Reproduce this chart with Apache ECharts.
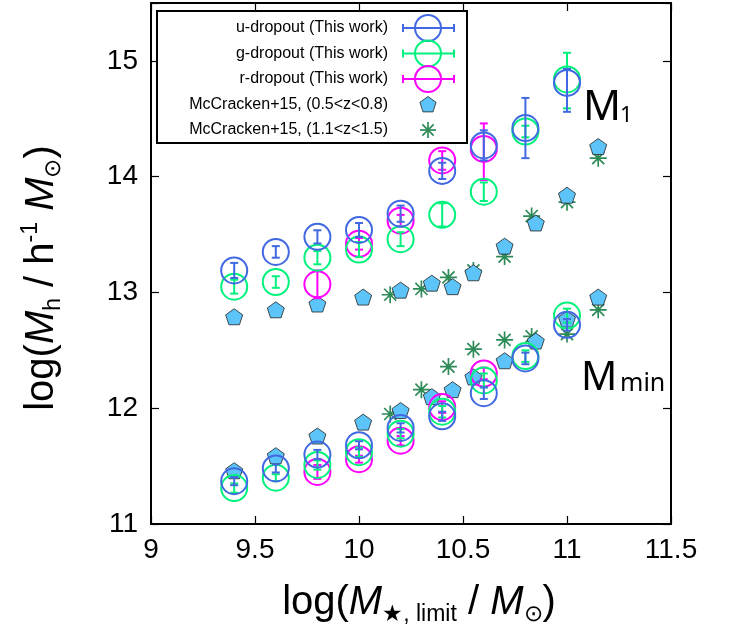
<!DOCTYPE html>
<html>
<head>
<meta charset="utf-8">
<script src="https://cdn.jsdelivr.net/npm/echarts@6/dist/echarts.min.js"></script>
<style>
html,body{margin:0;padding:0;background:#fff;}
#chart{width:732px;height:631px;}
</style>
</head>
<body>
<div id="chart"></div>
<script>
// ---- data ----
const xThis = [9.4, 9.6, 9.8, 10.0, 10.2, 10.4, 10.6, 10.8, 11.0];
const xR = [9.8, 10.0, 10.2, 10.4, 10.6];

const uM1 = [13.19, 13.35, 13.48, 13.54, 13.68, 14.05, 14.27, 14.42, 14.81];
const uM1Lo = [0.065, 0.05, 0.057, 0.06, 0.07, 0.07, 0.13, 0.26, 0.25];
const uM1Hi = [0.065, 0.05, 0.057, 0.06, 0.07, 0.07, 0.13, 0.26, 0.12];
const uMmin = [11.37, 11.48, 11.60, 11.68, 11.83, 11.93, 12.13, 12.43, 12.72];
const uMminErr = [0.035, 0.035, 0.04, 0.035, 0.04, 0.04, 0.05, 0.05, 0.05];

const gM1 = [13.05, 13.09, 13.30, 13.37, 13.46, 13.67, 13.87, 14.39, 14.84];
const gM1Lo = [0.06, 0.05, 0.057, 0.065, 0.06, 0.10, 0.08, 0.05, 0.25];
const gM1Hi = [0.06, 0.05, 0.057, 0.065, 0.06, 0.10, 0.08, 0.05, 0.23];
const gMmin = [11.31, 11.40, 11.51, 11.62, 11.78, 11.97, 12.24, 12.45, 12.80];
const gMminErr = [0.04, 0.03, 0.04, 0.04, 0.04, 0.05, 0.06, 0.05, 0.06];

const rM1 = [13.07, 13.42, 13.62, 14.14, 14.24];
const rM1Lo = [0.12, 0.05, 0.05, 0.08, 0.27];
const rM1Hi = [0.12, 0.05, 0.05, 0.08, 0.22];
const rMmin = [11.45, 11.56, 11.72, 12.01, 12.30];
const rMminErr = [0.06, 0.03, 0.04, 0.05, 0.05];

const mc1X = [9.4, 9.6, 9.8, 10.02, 10.2, 10.35, 10.45, 10.55, 10.7, 10.85, 11.0, 11.15];
const mc1M1 = [12.79, 12.85, 12.90, 12.96, 13.02, 13.08, 13.05, 13.17, 13.40, 13.60, 13.84, 14.26];
const mc1Mmin = [11.46, 11.59, 11.76, 11.88, 11.98, 12.10, 12.16, 12.27, 12.41, 12.58, 12.77, 12.96];

const mc2X = [10.15, 10.3, 10.43, 10.55, 10.7, 10.83, 11.0, 11.15];
const mc2M1 = [12.98, 13.03, 13.13, 13.19, 13.31, 13.66, 13.78, 14.16];
const mc2Mmin = [11.95, 12.16, 12.36, 12.51, 12.59, 12.62, 12.64, 12.85];

const xTicks = [9, 9.5, 10, 10.5, 11, 11.5];
const yTicks = [11, 12, 13, 14, 15];

const legendNames = ['u-dropout (This work)', 'g-dropout (This work)', 'r-dropout (This work)',
  'McCracken+15, (0.5<z<0.8)', 'McCracken+15, (1.1<z<1.5)'];

// ---- styles ----
const C_U = '#4169e1', C_G = '#00f27c', C_R = '#ff00ff', C_P = '#5cc4f8', C_S = '#2e8b57';
const FONT = 'Liberation Sans, Arial, sans-serif';

function zip(xs, ys, lo, hi) {
  return xs.map((x, i) => [x, ys[i], lo ? lo[i] : 0, hi ? hi[i] : (lo ? lo[i] : 0)]);
}

function errSeries(data, color, z) {
  return {
    type: 'custom', z: z, silent: true,
    data: data,
    renderItem: function (params, api) {
      const x = api.value(0), y = api.value(1), lo = api.value(2), hi = api.value(3);
      const a = api.coord([x, y - lo]), b = api.coord([x, y + hi]);
      const w = 4, st = { stroke: color, lineWidth: 2 };
      return { type: 'group', children: [
        { type: 'line', shape: { x1: a[0], y1: a[1], x2: b[0], y2: b[1] }, style: st },
        { type: 'line', shape: { x1: a[0] - w, y1: a[1], x2: a[0] + w, y2: a[1] }, style: st },
        { type: 'line', shape: { x1: b[0] - w, y1: b[1], x2: b[0] + w, y2: b[1] }, style: st }
      ]};
    }
  };
}
function circSeries(data, color, z) {
  return {
    type: 'scatter', z: z, silent: true, symbol: 'circle', symbolSize: 26,
    itemStyle: { color: 'rgba(0,0,0,0)', borderColor: color, borderWidth: 2, opacity: 1 },
    data: data.map(d => [d[0], d[1]])
  };
}
const PENT = 'path://M0,-1L0.951,-0.309L0.588,0.809L-0.588,0.809L-0.951,-0.309Z';
const STAR = 'path://M-1,0L1,0M0,-1L0,1M-0.707,-0.707L0.707,0.707M-0.707,0.707L0.707,-0.707';

const series = [];
// McCracken stars
[mc2M1, mc2Mmin].forEach(ys => series.push({
  type: 'scatter', z: 1, silent: true, symbol: STAR, symbolSize: 17,
  itemStyle: { color: 'rgba(0,0,0,0)', borderColor: C_S, borderWidth: 1.7, opacity: 1 },
  data: mc2X.map((x, i) => [x, ys[i]])
}));
// McCracken pentagons
[mc1M1, mc1Mmin].forEach(ys => series.push({
  type: 'scatter', z: 2, silent: true, symbol: PENT, symbolSize: [17, 16],
  itemStyle: { color: C_P, borderColor: '#222', borderWidth: 0.8, opacity: 1 },
  data: mc1X.map((x, i) => [x, ys[i]])
}));
// this work: r, g, u (u on top)
const sets = [
  [zip(xR, rM1, rM1Lo, rM1Hi), C_R, 3], [zip(xR, rMmin, rMminErr), C_R, 3],
  [zip(xThis, gM1, gM1Lo, gM1Hi), C_G, 4], [zip(xThis, gMmin, gMminErr), C_G, 4],
  [zip(xThis, uM1, uM1Lo, uM1Hi), C_U, 5], [zip(xThis, uMmin, uMminErr), C_U, 5]
];
sets.forEach(s => { series.push(errSeries(s[0], s[1], s[2])); series.push(circSeries(s[0], s[1], s[2])); });

// ---- legend (graphic) ----
const LX = 388, MX = 428, rows = [28, 53.5, 79, 104.5, 130];
const g = [];
g.push({ type: 'rect', z: 100, shape: { x: 157, y: 11, width: 310, height: 132 },
  style: { fill: '#fff', stroke: '#000', lineWidth: 2 } });
legendNames.forEach((t, i) => g.push({ type: 'text', z: 101, x: LX, y: rows[i],
  style: { text: t, fill: '#000', font: '16px ' + FONT, textAlign: 'right', textVerticalAlign: 'middle' } }));
[C_U, C_G, C_R].forEach((c, i) => {
  const y = rows[i], st = { stroke: c, lineWidth: 2, fill: null };
  g.push({ type: 'line', z: 101, shape: { x1: MX - 25, y1: y, x2: MX + 26, y2: y }, style: st });
  g.push({ type: 'line', z: 101, shape: { x1: MX - 25, y1: y - 4, x2: MX - 25, y2: y + 4 }, style: st });
  g.push({ type: 'line', z: 101, shape: { x1: MX + 26, y1: y - 4, x2: MX + 26, y2: y + 4 }, style: st });
  g.push({ type: 'circle', z: 101, shape: { cx: MX, cy: y, r: 13 }, style: { stroke: c, lineWidth: 2, fill: 'rgba(0,0,0,0)' } });
});
(function () {
  const cy = rows[3], r = 8.5, pts = [];
  for (let k = 0; k < 5; k++) { const a = -Math.PI / 2 + k * 2 * Math.PI / 5; pts.push([MX + r * Math.cos(a), cy + 0.5 + r * Math.sin(a)]); }
  g.push({ type: 'polygon', z: 101, shape: { points: pts }, style: { fill: C_P, stroke: '#222', lineWidth: 0.8 } });
  const sy = rows[4], s = 8;
  [[s, 0], [0, s], [s * 0.707, s * 0.707], [s * 0.707, -s * 0.707]].forEach(d => g.push({ type: 'line', z: 101,
    shape: { x1: MX - d[0], y1: sy - d[1], x2: MX + d[0], y2: sy + d[1] }, style: { stroke: C_S, lineWidth: 1.7 } }));
})();
// annotations
const AF = 'Noto Sans, Open Sans, sans-serif';
g.push({ type: 'text', z: 101, x: 583, y: 108, style: { text: 'M', fill: '#000', font: '42px ' + AF, textVerticalAlign: 'middle' } });
g.push({ type: 'text', z: 101, x: 620, y: 115.5, style: { text: '1', fill: '#000', font: '22px ' + AF, textVerticalAlign: 'middle' } });
g.push({ type: 'text', z: 101, x: 581, y: 378.5, style: { text: 'M', fill: '#000', font: '40px ' + AF, textVerticalAlign: 'middle' } });
g.push({ type: 'text', z: 101, x: 620, y: 384, style: { text: 'min', fill: '#000', font: '25px ' + AF, textVerticalAlign: 'middle' } });

const rich = {
  n: { fontSize: 40, fontFamily: FONT, color: '#000', lineHeight: 46 },
  i: { fontSize: 40, fontFamily: FONT, fontStyle: 'italic', color: '#000', lineHeight: 46 },
  s: { fontSize: 23, fontFamily: FONT, color: '#000', verticalAlign: 'bottom', lineHeight: 23 },
  sup: { fontSize: 23, fontFamily: FONT, color: '#000', verticalAlign: 'top', lineHeight: 23 }
};
// y-axis title as rotated rich text
g.push({ type: 'text', z: 101, x: 42, y: 278, rotation: Math.PI / 2,
  style: { text: '{n|log(}{i|M}{s|h}{n| / h}{sup|-1}{n| }{i|M}{s|⊙}{n|)}', rich: rich,
    textAlign: 'center', textVerticalAlign: 'middle' } });

const axisBase = {
  type: 'value', splitLine: { show: false },
  axisLine: { show: true, onZero: false, lineStyle: { color: '#000', width: 2 } },
  axisTick: { show: true, inside: true, length: 8, lineStyle: { color: '#000', width: 1.2 } }
};

const option = {
  backgroundColor: '#fff',
  animation: false,
  grid: { left: 151, right: 61, top: 3, bottom: 107, containLabel: false },
  xAxis: [
    Object.assign({}, axisBase, {
      min: xTicks[0], max: xTicks[xTicks.length - 1], interval: 0.5, position: 'bottom',
      axisLabel: { fontSize: 28, fontFamily: FONT, color: '#000', margin: 12,
        formatter: v => (xTicks.indexOf(v) >= 0 ? String(v) : '') },
      name: '{n|log(}{i|M}{s|★, limit}{n| / }{i|M}{s|⊙}{n|)}',
      nameLocation: 'middle', nameGap: 56, nameTextStyle: { rich: rich, padding: [0, 0, 0, 16] }
    }),
    Object.assign({}, axisBase, {
      min: xTicks[0], max: xTicks[xTicks.length - 1], interval: 0.5, position: 'top',
      axisLabel: { show: false }
    })
  ],
  yAxis: [
    Object.assign({}, axisBase, {
      min: 11, max: 15.5, interval: 1, position: 'left',
      axisLabel: { fontSize: 28, fontFamily: FONT, color: '#000', margin: 13,
        formatter: v => (yTicks.indexOf(v) >= 0 ? String(v) : '') }
    }),
    Object.assign({}, axisBase, {
      min: 11, max: 15.5, interval: 1, position: 'right', axisLabel: { show: false }
    })
  ],
  series: series,
  graphic: { elements: g }
};

const chart = echarts.init(document.getElementById('chart'), null, { renderer: 'canvas' });
chart.setOption(option);
</script>
</body>
</html>
